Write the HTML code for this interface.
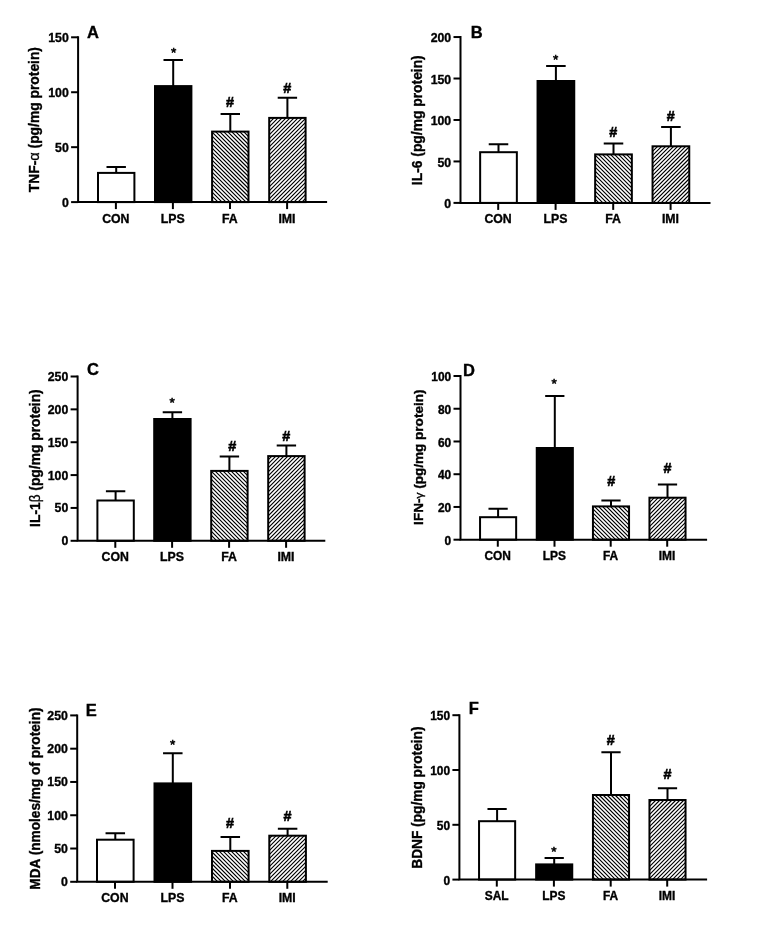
<!DOCTYPE html>
<html lang="en"><head><meta charset="utf-8"><title>Figure</title>
<style>html,body{margin:0;padding:0;background:#fff}body{width:762px;height:930px;overflow:hidden}svg{display:block}text{font-family:"Liberation Sans", sans-serif;font-weight:bold;fill:#000;stroke:#000;stroke-width:.35px}</style>
</head><body>
<svg width="762" height="930" viewBox="0 0 762 930">
<rect width="762" height="930" fill="#fff"/>
<g>
<path d="M116.2 172.9V166.9M106.5 166.9H125.9" stroke="#000" stroke-width="2" fill="none"/>
<rect x="98" y="172.9" width="36.4" height="29.2" fill="#fff"/>
<rect x="98" y="172.9" width="36.4" height="29.2" fill="none" stroke="#000" stroke-width="2"/>
<path d="M115.9 202.1v7" stroke="#000" stroke-width="2"/>
<text x="115.8" y="222.6" font-size="12.3" text-anchor="middle">CON</text>
<path d="M173.2 86.1V59.9M163.5 59.9H182.9" stroke="#000" stroke-width="2" fill="none"/>
<rect x="155" y="86.1" width="36.4" height="116" fill="#000"/>
<rect x="155" y="86.1" width="36.4" height="116" fill="none" stroke="#000" stroke-width="2"/>
<path d="M172.9 202.1v7" stroke="#000" stroke-width="2"/>
<text x="172.8" y="222.6" font-size="12.3" text-anchor="middle">LPS</text>
<text x="173.6" y="57.1" font-size="13.6" text-anchor="middle" style="font-weight:normal;stroke-width:.55px">*</text>
<path d="M230.3 131.6V113.9M220.6 113.9H240" stroke="#000" stroke-width="2" fill="none"/>
<rect x="212.1" y="131.6" width="36.4" height="70.5" fill="#fff"/>
<path d="M247.6 131.6L248.5 132.5M243.6 131.6L248.5 136.5M239.6 131.6L248.5 140.5M235.6 131.6L248.5 144.5M231.6 131.6L248.5 148.5M227.6 131.6L248.5 152.5M223.6 131.6L248.5 156.5M219.6 131.6L248.5 160.5M215.6 131.6L248.5 164.5M212.1 132.1L248.5 168.5M212.1 136.1L248.5 172.5M212.1 140.1L248.5 176.5M212.1 144.1L248.5 180.5M212.1 148.1L248.5 184.5M212.1 152.1L248.5 188.5M212.1 156.1L248.5 192.5M212.1 160.1L248.5 196.5M212.1 164.1L248.5 200.5M212.1 168.1L246.1 202.1M212.1 172.1L242.1 202.1M212.1 176.1L238.1 202.1M212.1 180.1L234.1 202.1M212.1 184.1L230.1 202.1M212.1 188.1L226.1 202.1M212.1 192.1L222.1 202.1M212.1 196.1L218.1 202.1M212.1 200.1L214.1 202.1" stroke="#000" stroke-width="1.18" fill="none"/>
<rect x="212.1" y="131.6" width="36.4" height="70.5" fill="none" stroke="#000" stroke-width="2"/>
<path d="M230 202.1v7" stroke="#000" stroke-width="2"/>
<text x="229.9" y="222.6" font-size="12.3" text-anchor="middle">FA</text>
<text font-size="14.8" text-anchor="middle" transform="translate(230.1 106.8) scale(0.97 1.03)" style="stroke-width:.6px">#</text>
<path d="M287.4 117.9V97.8M277.7 97.8H297.1" stroke="#000" stroke-width="2" fill="none"/>
<rect x="269.2" y="117.9" width="36.4" height="84.2" fill="#fff"/>
<path d="M269.2 118.8L270.1 117.9M269.2 122.8L274.1 117.9M269.2 126.8L278.1 117.9M269.2 130.8L282.1 117.9M269.2 134.8L286.1 117.9M269.2 138.8L290.1 117.9M269.2 142.8L294.1 117.9M269.2 146.8L298.1 117.9M269.2 150.8L302.1 117.9M269.2 154.8L305.6 118.4M269.2 158.8L305.6 122.4M269.2 162.8L305.6 126.4M269.2 166.8L305.6 130.4M269.2 170.8L305.6 134.4M269.2 174.8L305.6 138.4M269.2 178.8L305.6 142.4M269.2 182.8L305.6 146.4M269.2 186.8L305.6 150.4M269.2 190.8L305.6 154.4M269.2 194.8L305.6 158.4M269.2 198.8L305.6 162.4M269.9 202.1L305.6 166.4M273.9 202.1L305.6 170.4M277.9 202.1L305.6 174.4M281.9 202.1L305.6 178.4M285.9 202.1L305.6 182.4M289.9 202.1L305.6 186.4M293.9 202.1L305.6 190.4M297.9 202.1L305.6 194.4M301.9 202.1L305.6 198.4" stroke="#000" stroke-width="1.18" fill="none"/>
<rect x="269.2" y="117.9" width="36.4" height="84.2" fill="none" stroke="#000" stroke-width="2"/>
<path d="M287.1 202.1v7" stroke="#000" stroke-width="2"/>
<text x="287" y="222.6" font-size="12.3" text-anchor="middle">IMI</text>
<text font-size="14.8" text-anchor="middle" transform="translate(287.2 93.1) scale(0.97 1.03)" style="stroke-width:.6px">#</text>
<path d="M78.1 36.3V202.1H327.1" stroke="#000" stroke-width="2" fill="none" stroke-linejoin="miter"/>
<path d="M78.1 202.1h-7" stroke="#000" stroke-width="2"/>
<text x="68.8" y="207.2" font-size="12.3" text-anchor="end">0</text>
<path d="M78.1 147.17h-7" stroke="#000" stroke-width="2"/>
<text x="68.8" y="152.27" font-size="12.3" text-anchor="end">50</text>
<path d="M78.1 92.23h-7" stroke="#000" stroke-width="2"/>
<text x="68.8" y="97.33" font-size="12.3" text-anchor="end">100</text>
<path d="M78.1 37.3h-7" stroke="#000" stroke-width="2"/>
<text x="68.8" y="42.4" font-size="12.3" text-anchor="end">150</text>
<text transform="translate(39.3 119.6) rotate(-90) scale(1 1.015)" font-size="13.85" text-anchor="middle">TNF-<tspan font-size="14.5" style="font-weight:normal">α</tspan> (pg/mg protein)</text>
<text x="87" y="37.7" font-size="16.5">A</text>
</g>
<g>
<path d="M498.5 152.2V144.3M488.73 144.3H508.27" stroke="#000" stroke-width="2" fill="none"/>
<rect x="480.15" y="152.2" width="36.7" height="50.7" fill="#fff"/>
<rect x="480.15" y="152.2" width="36.7" height="50.7" fill="none" stroke="#000" stroke-width="2"/>
<path d="M498.2 202.9v7" stroke="#000" stroke-width="2"/>
<text x="498.1" y="223.4" font-size="12.3" text-anchor="middle">CON</text>
<path d="M555.9 81V66M546.13 66H565.67" stroke="#000" stroke-width="2" fill="none"/>
<rect x="537.55" y="81" width="36.7" height="121.9" fill="#000"/>
<rect x="537.55" y="81" width="36.7" height="121.9" fill="none" stroke="#000" stroke-width="2"/>
<path d="M555.6 202.9v7" stroke="#000" stroke-width="2"/>
<text x="555.5" y="223.4" font-size="12.3" text-anchor="middle">LPS</text>
<text x="555.6" y="63.7" font-size="13.6" text-anchor="middle" style="font-weight:normal;stroke-width:.55px">*</text>
<path d="M613.5 154.4V143.5M603.73 143.5H623.27" stroke="#000" stroke-width="2" fill="none"/>
<rect x="595.15" y="154.4" width="36.7" height="48.5" fill="#fff"/>
<path d="M630.4 154.4L631.85 155.85M626.4 154.4L631.85 159.85M622.4 154.4L631.85 163.85M618.4 154.4L631.85 167.85M614.4 154.4L631.85 171.85M610.4 154.4L631.85 175.85M606.4 154.4L631.85 179.85M602.4 154.4L631.85 183.85M598.4 154.4L631.85 187.85M595.15 155.15L631.85 191.85M595.15 159.15L631.85 195.85M595.15 163.15L631.85 199.85M595.15 167.15L630.9 202.9M595.15 171.15L626.9 202.9M595.15 175.15L622.9 202.9M595.15 179.15L618.9 202.9M595.15 183.15L614.9 202.9M595.15 187.15L610.9 202.9M595.15 191.15L606.9 202.9M595.15 195.15L602.9 202.9M595.15 199.15L598.9 202.9" stroke="#000" stroke-width="1.18" fill="none"/>
<rect x="595.15" y="154.4" width="36.7" height="48.5" fill="none" stroke="#000" stroke-width="2"/>
<path d="M613.2 202.9v7" stroke="#000" stroke-width="2"/>
<text x="613.1" y="223.4" font-size="12.3" text-anchor="middle">FA</text>
<text font-size="14.8" text-anchor="middle" transform="translate(613.3 136.9) scale(0.97 1.03)" style="stroke-width:.6px">#</text>
<path d="M670.9 146.3V127M661.13 127H680.67" stroke="#000" stroke-width="2" fill="none"/>
<rect x="652.55" y="146.3" width="36.7" height="56.6" fill="#fff"/>
<path d="M652.55 147.45L653.7 146.3M652.55 151.45L657.7 146.3M652.55 155.45L661.7 146.3M652.55 159.45L665.7 146.3M652.55 163.45L669.7 146.3M652.55 167.45L673.7 146.3M652.55 171.45L677.7 146.3M652.55 175.45L681.7 146.3M652.55 179.45L685.7 146.3M652.55 183.45L689.25 146.75M652.55 187.45L689.25 150.75M652.55 191.45L689.25 154.75M652.55 195.45L689.25 158.75M652.55 199.45L689.25 162.75M653.1 202.9L689.25 166.75M657.1 202.9L689.25 170.75M661.1 202.9L689.25 174.75M665.1 202.9L689.25 178.75M669.1 202.9L689.25 182.75M673.1 202.9L689.25 186.75M677.1 202.9L689.25 190.75M681.1 202.9L689.25 194.75M685.1 202.9L689.25 198.75M689.1 202.9L689.25 202.75" stroke="#000" stroke-width="1.18" fill="none"/>
<rect x="652.55" y="146.3" width="36.7" height="56.6" fill="none" stroke="#000" stroke-width="2"/>
<path d="M670.6 202.9v7" stroke="#000" stroke-width="2"/>
<text x="670.5" y="223.4" font-size="12.3" text-anchor="middle">IMI</text>
<text font-size="14.8" text-anchor="middle" transform="translate(670.8 121.2) scale(0.97 1.03)" style="stroke-width:.6px">#</text>
<path d="M460.5 36.05V202.9H710.5" stroke="#000" stroke-width="2" fill="none" stroke-linejoin="miter"/>
<path d="M460.5 202.9h-7" stroke="#000" stroke-width="2"/>
<text x="451.2" y="208" font-size="12.3" text-anchor="end">0</text>
<path d="M460.5 161.44h-7" stroke="#000" stroke-width="2"/>
<text x="451.2" y="166.54" font-size="12.3" text-anchor="end">50</text>
<path d="M460.5 119.97h-7" stroke="#000" stroke-width="2"/>
<text x="451.2" y="125.07" font-size="12.3" text-anchor="end">100</text>
<path d="M460.5 78.51h-7" stroke="#000" stroke-width="2"/>
<text x="451.2" y="83.61" font-size="12.3" text-anchor="end">150</text>
<path d="M460.5 37.05h-7" stroke="#000" stroke-width="2"/>
<text x="451.2" y="42.15" font-size="12.3" text-anchor="end">200</text>
<text transform="translate(422.4 120.2) rotate(-90) scale(1 1.015)" font-size="13.85" text-anchor="middle">IL-6 (pg/mg protein)</text>
<text x="470.7" y="37.6" font-size="16.5">B</text>
</g>
<g>
<path d="M115.6 500.5V491.3M105.9 491.3H125.3" stroke="#000" stroke-width="2" fill="none"/>
<rect x="97.4" y="500.5" width="36.4" height="40.3" fill="#fff"/>
<rect x="97.4" y="500.5" width="36.4" height="40.3" fill="none" stroke="#000" stroke-width="2"/>
<path d="M115.3 540.8v7" stroke="#000" stroke-width="2"/>
<text x="115.2" y="561.3" font-size="12.3" text-anchor="middle">CON</text>
<path d="M172.4 419V412.3M162.7 412.3H182.1" stroke="#000" stroke-width="2" fill="none"/>
<rect x="154.2" y="419" width="36.4" height="121.8" fill="#000"/>
<rect x="154.2" y="419" width="36.4" height="121.8" fill="none" stroke="#000" stroke-width="2"/>
<path d="M172.1 540.8v7" stroke="#000" stroke-width="2"/>
<text x="172" y="561.3" font-size="12.3" text-anchor="middle">LPS</text>
<text x="172.1" y="407.4" font-size="13.6" text-anchor="middle" style="font-weight:normal;stroke-width:.55px">*</text>
<path d="M229.4 470.9V456.5M219.7 456.5H239.1" stroke="#000" stroke-width="2" fill="none"/>
<rect x="211.2" y="470.9" width="36.4" height="69.9" fill="#fff"/>
<path d="M246.9 470.9L247.6 471.6M242.9 470.9L247.6 475.6M238.9 470.9L247.6 479.6M234.9 470.9L247.6 483.6M230.9 470.9L247.6 487.6M226.9 470.9L247.6 491.6M222.9 470.9L247.6 495.6M218.9 470.9L247.6 499.6M214.9 470.9L247.6 503.6M211.2 471.2L247.6 507.6M211.2 475.2L247.6 511.6M211.2 479.2L247.6 515.6M211.2 483.2L247.6 519.6M211.2 487.2L247.6 523.6M211.2 491.2L247.6 527.6M211.2 495.2L247.6 531.6M211.2 499.2L247.6 535.6M211.2 503.2L247.6 539.6M211.2 507.2L244.8 540.8M211.2 511.2L240.8 540.8M211.2 515.2L236.8 540.8M211.2 519.2L232.8 540.8M211.2 523.2L228.8 540.8M211.2 527.2L224.8 540.8M211.2 531.2L220.8 540.8M211.2 535.2L216.8 540.8M211.2 539.2L212.8 540.8" stroke="#000" stroke-width="1.18" fill="none"/>
<rect x="211.2" y="470.9" width="36.4" height="69.9" fill="none" stroke="#000" stroke-width="2"/>
<path d="M229.1 540.8v7" stroke="#000" stroke-width="2"/>
<text x="229" y="561.3" font-size="12.3" text-anchor="middle">FA</text>
<text font-size="14.8" text-anchor="middle" transform="translate(232.2 451) scale(0.97 1.03)" style="stroke-width:.6px">#</text>
<path d="M286.4 456.1V445.5M276.7 445.5H296.1" stroke="#000" stroke-width="2" fill="none"/>
<rect x="268.2" y="456.1" width="36.4" height="84.7" fill="#fff"/>
<path d="M268.2 459.8L271.9 456.1M268.2 463.8L275.9 456.1M268.2 467.8L279.9 456.1M268.2 471.8L283.9 456.1M268.2 475.8L287.9 456.1M268.2 479.8L291.9 456.1M268.2 483.8L295.9 456.1M268.2 487.8L299.9 456.1M268.2 491.8L303.9 456.1M268.2 495.8L304.6 459.4M268.2 499.8L304.6 463.4M268.2 503.8L304.6 467.4M268.2 507.8L304.6 471.4M268.2 511.8L304.6 475.4M268.2 515.8L304.6 479.4M268.2 519.8L304.6 483.4M268.2 523.8L304.6 487.4M268.2 527.8L304.6 491.4M268.2 531.8L304.6 495.4M268.2 535.8L304.6 499.4M268.2 539.8L304.6 503.4M271.2 540.8L304.6 507.4M275.2 540.8L304.6 511.4M279.2 540.8L304.6 515.4M283.2 540.8L304.6 519.4M287.2 540.8L304.6 523.4M291.2 540.8L304.6 527.4M295.2 540.8L304.6 531.4M299.2 540.8L304.6 535.4M303.2 540.8L304.6 539.4" stroke="#000" stroke-width="1.18" fill="none"/>
<rect x="268.2" y="456.1" width="36.4" height="84.7" fill="none" stroke="#000" stroke-width="2"/>
<path d="M286.1 540.8v7" stroke="#000" stroke-width="2"/>
<text x="286" y="561.3" font-size="12.3" text-anchor="middle">IMI</text>
<text font-size="14.8" text-anchor="middle" transform="translate(286.2 440.6) scale(0.97 1.03)" style="stroke-width:.6px">#</text>
<path d="M77.6 375.5V540.8H325.3" stroke="#000" stroke-width="2" fill="none" stroke-linejoin="miter"/>
<path d="M77.6 540.8h-7" stroke="#000" stroke-width="2"/>
<text x="68.3" y="545.3" font-size="12.3" text-anchor="end">0</text>
<path d="M77.6 507.94h-7" stroke="#000" stroke-width="2"/>
<text x="68.3" y="512.44" font-size="12.3" text-anchor="end">50</text>
<path d="M77.6 475.08h-7" stroke="#000" stroke-width="2"/>
<text x="68.3" y="479.58" font-size="12.3" text-anchor="end">100</text>
<path d="M77.6 442.22h-7" stroke="#000" stroke-width="2"/>
<text x="68.3" y="446.72" font-size="12.3" text-anchor="end">150</text>
<path d="M77.6 409.36h-7" stroke="#000" stroke-width="2"/>
<text x="68.3" y="413.86" font-size="12.3" text-anchor="end">200</text>
<path d="M77.6 376.5h-7" stroke="#000" stroke-width="2"/>
<text x="68.3" y="381" font-size="12.3" text-anchor="end">250</text>
<text transform="translate(39.8 458.1) rotate(-90) scale(1 1.015)" font-size="13.85" text-anchor="middle">IL-1<tspan font-size="13.5" style="font-weight:normal">β</tspan> (pg/mg protein)</text>
<text x="87" y="374.8" font-size="16.5">C</text>
</g>
<g>
<path d="M498.1 517.2V508.8M488.48 508.8H507.72" stroke="#000" stroke-width="2" fill="none"/>
<rect x="480.05" y="517.2" width="36.1" height="22.5" fill="#fff"/>
<rect x="480.05" y="517.2" width="36.1" height="22.5" fill="none" stroke="#000" stroke-width="2"/>
<path d="M497.8 539.7v7" stroke="#000" stroke-width="2"/>
<text x="497.7" y="560.2" font-size="11.93" text-anchor="middle">CON</text>
<path d="M554.8 448V396M545.18 396H564.42" stroke="#000" stroke-width="2" fill="none"/>
<rect x="536.75" y="448" width="36.1" height="91.7" fill="#000"/>
<rect x="536.75" y="448" width="36.1" height="91.7" fill="none" stroke="#000" stroke-width="2"/>
<path d="M554.5 539.7v7" stroke="#000" stroke-width="2"/>
<text x="554.4" y="560.2" font-size="11.93" text-anchor="middle">LPS</text>
<text x="554.2" y="387.7" font-size="13.6" text-anchor="middle" style="font-weight:normal;stroke-width:.55px">*</text>
<path d="M611 506.4V500.5M601.38 500.5H620.62" stroke="#000" stroke-width="2" fill="none"/>
<rect x="592.95" y="506.4" width="36.1" height="33.3" fill="#fff"/>
<path d="M626.4 506.4L629.05 509.05M622.4 506.4L629.05 513.05M618.4 506.4L629.05 517.05M614.4 506.4L629.05 521.05M610.4 506.4L629.05 525.05M606.4 506.4L629.05 529.05M602.4 506.4L629.05 533.05M598.4 506.4L629.05 537.05M594.4 506.4L627.7 539.7M592.95 508.95L623.7 539.7M592.95 512.95L619.7 539.7M592.95 516.95L615.7 539.7M592.95 520.95L611.7 539.7M592.95 524.95L607.7 539.7M592.95 528.95L603.7 539.7M592.95 532.95L599.7 539.7M592.95 536.95L595.7 539.7" stroke="#000" stroke-width="1.18" fill="none"/>
<rect x="592.95" y="506.4" width="36.1" height="33.3" fill="none" stroke="#000" stroke-width="2"/>
<path d="M610.7 539.7v7" stroke="#000" stroke-width="2"/>
<text x="610.6" y="560.2" font-size="11.93" text-anchor="middle">FA</text>
<text font-size="14.8" text-anchor="middle" transform="translate(611.2 485.5) scale(0.97 1.03)" style="stroke-width:.6px">#</text>
<path d="M667.5 497.7V484.5M657.88 484.5H677.12" stroke="#000" stroke-width="2" fill="none"/>
<rect x="649.45" y="497.7" width="36.1" height="42" fill="#fff"/>
<path d="M649.45 498.55L650.3 497.7M649.45 502.55L654.3 497.7M649.45 506.55L658.3 497.7M649.45 510.55L662.3 497.7M649.45 514.55L666.3 497.7M649.45 518.55L670.3 497.7M649.45 522.55L674.3 497.7M649.45 526.55L678.3 497.7M649.45 530.55L682.3 497.7M649.45 534.55L685.55 498.45M649.45 538.55L685.55 502.45M652.3 539.7L685.55 506.45M656.3 539.7L685.55 510.45M660.3 539.7L685.55 514.45M664.3 539.7L685.55 518.45M668.3 539.7L685.55 522.45M672.3 539.7L685.55 526.45M676.3 539.7L685.55 530.45M680.3 539.7L685.55 534.45M684.3 539.7L685.55 538.45" stroke="#000" stroke-width="1.18" fill="none"/>
<rect x="649.45" y="497.7" width="36.1" height="42" fill="none" stroke="#000" stroke-width="2"/>
<path d="M667.2 539.7v7" stroke="#000" stroke-width="2"/>
<text x="667.1" y="560.2" font-size="11.93" text-anchor="middle">IMI</text>
<text font-size="14.8" text-anchor="middle" transform="translate(667.5 473.2) scale(0.97 1.03)" style="stroke-width:.6px">#</text>
<path d="M460.5 375V539.7H707.1" stroke="#000" stroke-width="2" fill="none" stroke-linejoin="miter"/>
<path d="M460.5 539.7h-7" stroke="#000" stroke-width="2"/>
<text x="451.2" y="544.8" font-size="11.93" text-anchor="end">0</text>
<path d="M460.5 506.96h-7" stroke="#000" stroke-width="2"/>
<text x="451.2" y="512.06" font-size="11.93" text-anchor="end">20</text>
<path d="M460.5 474.22h-7" stroke="#000" stroke-width="2"/>
<text x="451.2" y="479.32" font-size="11.93" text-anchor="end">40</text>
<path d="M460.5 441.48h-7" stroke="#000" stroke-width="2"/>
<text x="451.2" y="446.58" font-size="11.93" text-anchor="end">60</text>
<path d="M460.5 408.74h-7" stroke="#000" stroke-width="2"/>
<text x="451.2" y="413.84" font-size="11.93" text-anchor="end">80</text>
<path d="M460.5 376h-7" stroke="#000" stroke-width="2"/>
<text x="451.2" y="381.1" font-size="11.93" text-anchor="end">100</text>
<text transform="translate(422.5 457.2) rotate(-90) scale(1 0.985)" font-size="13.55" text-anchor="middle">IFN-<tspan font-size="12" style="font-weight:normal">γ</tspan> (pg/mg protein)</text>
<text x="462.9" y="376.1" font-size="16.5">D</text>
</g>
<g>
<path d="M115.3 839.7V833.3M105.55 833.3H125.05" stroke="#000" stroke-width="2" fill="none"/>
<rect x="97" y="839.7" width="36.6" height="42.1" fill="#fff"/>
<rect x="97" y="839.7" width="36.6" height="42.1" fill="none" stroke="#000" stroke-width="2"/>
<path d="M115 881.8v7" stroke="#000" stroke-width="2"/>
<text x="114.9" y="902.3" font-size="12.3" text-anchor="middle">CON</text>
<path d="M172.8 783.4V753.2M163.05 753.2H182.55" stroke="#000" stroke-width="2" fill="none"/>
<rect x="154.5" y="783.4" width="36.6" height="98.4" fill="#000"/>
<rect x="154.5" y="783.4" width="36.6" height="98.4" fill="none" stroke="#000" stroke-width="2"/>
<path d="M172.5 881.8v7" stroke="#000" stroke-width="2"/>
<text x="172.4" y="902.3" font-size="12.3" text-anchor="middle">LPS</text>
<text x="172.7" y="749" font-size="13.6" text-anchor="middle" style="font-weight:normal;stroke-width:.55px">*</text>
<path d="M230.3 850.9V837M220.55 837H240.05" stroke="#000" stroke-width="2" fill="none"/>
<rect x="212" y="850.9" width="36.6" height="30.9" fill="#fff"/>
<path d="M246.9 850.9L248.6 852.6M242.9 850.9L248.6 856.6M238.9 850.9L248.6 860.6M234.9 850.9L248.6 864.6M230.9 850.9L248.6 868.6M226.9 850.9L248.6 872.6M222.9 850.9L248.6 876.6M218.9 850.9L248.6 880.6M214.9 850.9L245.8 881.8M212 852L241.8 881.8M212 856L237.8 881.8M212 860L233.8 881.8M212 864L229.8 881.8M212 868L225.8 881.8M212 872L221.8 881.8M212 876L217.8 881.8M212 880L213.8 881.8" stroke="#000" stroke-width="1.18" fill="none"/>
<rect x="212" y="850.9" width="36.6" height="30.9" fill="none" stroke="#000" stroke-width="2"/>
<path d="M230 881.8v7" stroke="#000" stroke-width="2"/>
<text x="229.9" y="902.3" font-size="12.3" text-anchor="middle">FA</text>
<text font-size="14.8" text-anchor="middle" transform="translate(230 828.4) scale(0.97 1.03)" style="stroke-width:.6px">#</text>
<path d="M287.6 835.7V828.8M277.85 828.8H297.35" stroke="#000" stroke-width="2" fill="none"/>
<rect x="269.3" y="835.7" width="36.6" height="46.1" fill="#fff"/>
<path d="M269.3 838.7L272.3 835.7M269.3 842.7L276.3 835.7M269.3 846.7L280.3 835.7M269.3 850.7L284.3 835.7M269.3 854.7L288.3 835.7M269.3 858.7L292.3 835.7M269.3 862.7L296.3 835.7M269.3 866.7L300.3 835.7M269.3 870.7L304.3 835.7M269.3 874.7L305.9 838.1M269.3 878.7L305.9 842.1M270.2 881.8L305.9 846.1M274.2 881.8L305.9 850.1M278.2 881.8L305.9 854.1M282.2 881.8L305.9 858.1M286.2 881.8L305.9 862.1M290.2 881.8L305.9 866.1M294.2 881.8L305.9 870.1M298.2 881.8L305.9 874.1M302.2 881.8L305.9 878.1" stroke="#000" stroke-width="1.18" fill="none"/>
<rect x="269.3" y="835.7" width="36.6" height="46.1" fill="none" stroke="#000" stroke-width="2"/>
<path d="M287.3 881.8v7" stroke="#000" stroke-width="2"/>
<text x="287.2" y="902.3" font-size="12.3" text-anchor="middle">IMI</text>
<text font-size="14.8" text-anchor="middle" transform="translate(287.5 820.7) scale(0.97 1.03)" style="stroke-width:.6px">#</text>
<path d="M77.2 714.4V881.8H327.7" stroke="#000" stroke-width="2" fill="none" stroke-linejoin="miter"/>
<path d="M77.2 881.8h-7" stroke="#000" stroke-width="2"/>
<text x="67.9" y="886.3" font-size="12.3" text-anchor="end">0</text>
<path d="M77.2 848.52h-7" stroke="#000" stroke-width="2"/>
<text x="67.9" y="853.02" font-size="12.3" text-anchor="end">50</text>
<path d="M77.2 815.24h-7" stroke="#000" stroke-width="2"/>
<text x="67.9" y="819.74" font-size="12.3" text-anchor="end">100</text>
<path d="M77.2 781.96h-7" stroke="#000" stroke-width="2"/>
<text x="67.9" y="786.46" font-size="12.3" text-anchor="end">150</text>
<path d="M77.2 748.68h-7" stroke="#000" stroke-width="2"/>
<text x="67.9" y="753.18" font-size="12.3" text-anchor="end">200</text>
<path d="M77.2 715.4h-7" stroke="#000" stroke-width="2"/>
<text x="67.9" y="719.9" font-size="12.3" text-anchor="end">250</text>
<text transform="translate(40.1 798.6) rotate(-90) scale(1 1.015)" font-size="13.65" text-anchor="middle">MDA (nmoles/mg of protein)</text>
<text x="85.8" y="715.7" font-size="16.5">E</text>
</g>
<g>
<path d="M497.1 821.2V809.1M487.48 809.1H506.72" stroke="#000" stroke-width="2" fill="none"/>
<rect x="479.05" y="821.2" width="36.1" height="58.4" fill="#fff"/>
<rect x="479.05" y="821.2" width="36.1" height="58.4" fill="none" stroke="#000" stroke-width="2"/>
<path d="M496.8 879.6v7" stroke="#000" stroke-width="2"/>
<text x="496.7" y="900.1" font-size="11.93" text-anchor="middle">SAL</text>
<path d="M554.2 864.4V858M544.58 858H563.82" stroke="#000" stroke-width="2" fill="none"/>
<rect x="536.15" y="864.4" width="36.1" height="15.2" fill="#000"/>
<rect x="536.15" y="864.4" width="36.1" height="15.2" fill="none" stroke="#000" stroke-width="2"/>
<path d="M553.9 879.6v7" stroke="#000" stroke-width="2"/>
<text x="553.8" y="900.1" font-size="11.93" text-anchor="middle">LPS</text>
<text x="553.8" y="856.4" font-size="13.6" text-anchor="middle" style="font-weight:normal;stroke-width:.55px">*</text>
<path d="M611 795V752.3M601.38 752.3H620.62" stroke="#000" stroke-width="2" fill="none"/>
<rect x="592.95" y="795" width="36.1" height="84.6" fill="#fff"/>
<path d="M627 795L629.05 797.05M623 795L629.05 801.05M619 795L629.05 805.05M615 795L629.05 809.05M611 795L629.05 813.05M607 795L629.05 817.05M603 795L629.05 821.05M599 795L629.05 825.05M595 795L629.05 829.05M592.95 796.95L629.05 833.05M592.95 800.95L629.05 837.05M592.95 804.95L629.05 841.05M592.95 808.95L629.05 845.05M592.95 812.95L629.05 849.05M592.95 816.95L629.05 853.05M592.95 820.95L629.05 857.05M592.95 824.95L629.05 861.05M592.95 828.95L629.05 865.05M592.95 832.95L629.05 869.05M592.95 836.95L629.05 873.05M592.95 840.95L629.05 877.05M592.95 844.95L627.6 879.6M592.95 848.95L623.6 879.6M592.95 852.95L619.6 879.6M592.95 856.95L615.6 879.6M592.95 860.95L611.6 879.6M592.95 864.95L607.6 879.6M592.95 868.95L603.6 879.6M592.95 872.95L599.6 879.6M592.95 876.95L595.6 879.6" stroke="#000" stroke-width="1.18" fill="none"/>
<rect x="592.95" y="795" width="36.1" height="84.6" fill="none" stroke="#000" stroke-width="2"/>
<path d="M610.7 879.6v7" stroke="#000" stroke-width="2"/>
<text x="610.6" y="900.1" font-size="11.93" text-anchor="middle">FA</text>
<text font-size="14.8" text-anchor="middle" transform="translate(610.8 744.6) scale(0.97 1.03)" style="stroke-width:.6px">#</text>
<path d="M667.5 800V788.2M657.88 788.2H677.12" stroke="#000" stroke-width="2" fill="none"/>
<rect x="649.45" y="800" width="36.1" height="79.6" fill="#fff"/>
<path d="M649.45 802.55L652 800M649.45 806.55L656 800M649.45 810.55L660 800M649.45 814.55L664 800M649.45 818.55L668 800M649.45 822.55L672 800M649.45 826.55L676 800M649.45 830.55L680 800M649.45 834.55L684 800M649.45 838.55L685.55 802.45M649.45 842.55L685.55 806.45M649.45 846.55L685.55 810.45M649.45 850.55L685.55 814.45M649.45 854.55L685.55 818.45M649.45 858.55L685.55 822.45M649.45 862.55L685.55 826.45M649.45 866.55L685.55 830.45M649.45 870.55L685.55 834.45M649.45 874.55L685.55 838.45M649.45 878.55L685.55 842.45M652.4 879.6L685.55 846.45M656.4 879.6L685.55 850.45M660.4 879.6L685.55 854.45M664.4 879.6L685.55 858.45M668.4 879.6L685.55 862.45M672.4 879.6L685.55 866.45M676.4 879.6L685.55 870.45M680.4 879.6L685.55 874.45M684.4 879.6L685.55 878.45" stroke="#000" stroke-width="1.18" fill="none"/>
<rect x="649.45" y="800" width="36.1" height="79.6" fill="none" stroke="#000" stroke-width="2"/>
<path d="M667.2 879.6v7" stroke="#000" stroke-width="2"/>
<text x="667.1" y="900.1" font-size="11.93" text-anchor="middle">IMI</text>
<text font-size="14.8" text-anchor="middle" transform="translate(667.5 779) scale(0.97 1.03)" style="stroke-width:.6px">#</text>
<path d="M459.4 714.2V879.6H707.1" stroke="#000" stroke-width="2" fill="none" stroke-linejoin="miter"/>
<path d="M459.4 879.6h-7" stroke="#000" stroke-width="2"/>
<text x="450.1" y="884.7" font-size="11.93" text-anchor="end">0</text>
<path d="M459.4 824.8h-7" stroke="#000" stroke-width="2"/>
<text x="450.1" y="829.9" font-size="11.93" text-anchor="end">50</text>
<path d="M459.4 770h-7" stroke="#000" stroke-width="2"/>
<text x="450.1" y="775.1" font-size="11.93" text-anchor="end">100</text>
<path d="M459.4 715.2h-7" stroke="#000" stroke-width="2"/>
<text x="450.1" y="720.3" font-size="11.93" text-anchor="end">150</text>
<text transform="translate(421.9 797.6) rotate(-90) scale(1 1.015)" font-size="13.7" text-anchor="middle">BDNF (pg/mg protein)</text>
<text x="468.8" y="714.1" font-size="16.5">F</text>
</g>
</svg></body></html>
